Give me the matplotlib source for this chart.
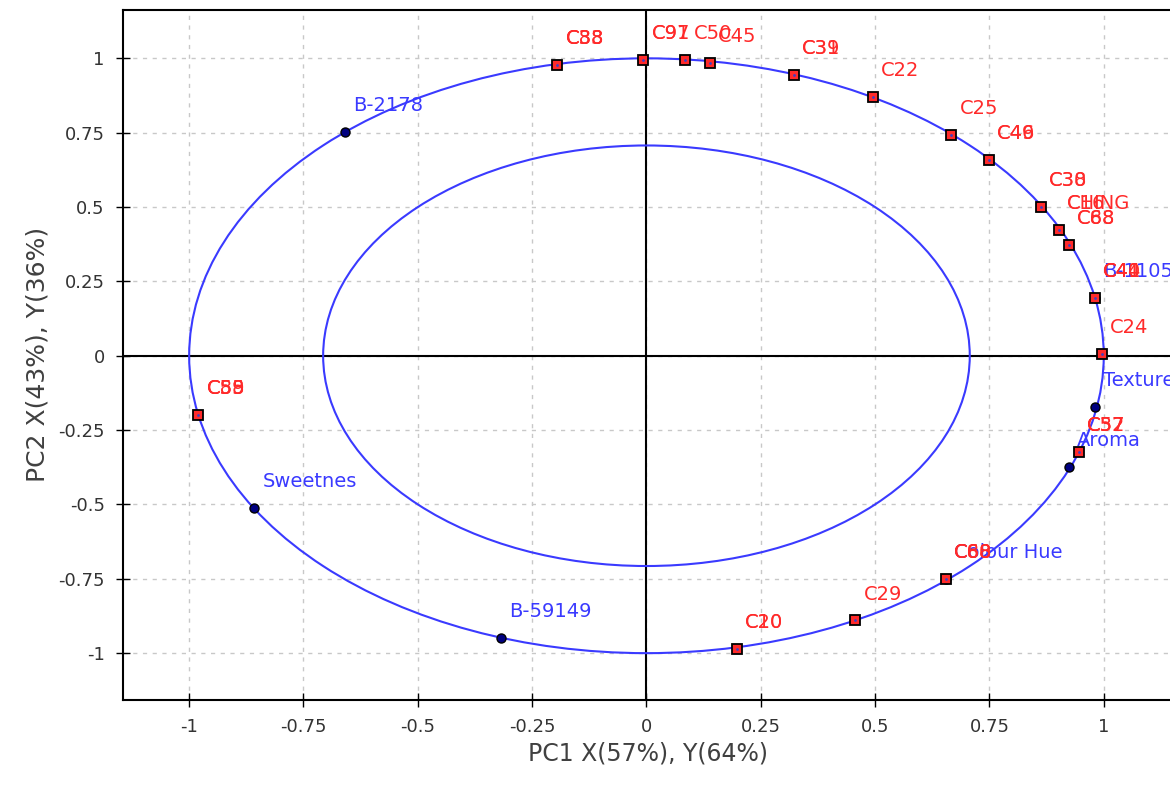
import matplotlib.pyplot as plt
from matplotlib.patches import Circle

# red squares (X variables), overlapping names share one point
sq_x = [-0.195, -0.007, 0.085, 0.138, 0.322, 0.495, 0.667, 0.748, 0.862, 0.902, 0.923, 0.980, 0.996, 0.945, -0.980, 0.654, 0.457, 0.197]
sq_y = [0.978, 0.995, 0.995, 0.985, 0.945, 0.871, 0.743, 0.659, 0.501, 0.424, 0.373, 0.195, 0.007, -0.323, -0.198, -0.750, -0.890, -0.985]
sq_names = ['C33/C38/C88', 'C91/C97', 'C50', 'C45', 'C39/C31', 'C22', 'C25', 'C46/C49',
            'C30/C38', 'C16/CHING', 'C68/C88', 'C40/C41/C44', 'C24', 'C52/C37/C57',
            'C55/C59/C88', 'C60/C68/C88', 'C29', 'C10/C20']

# blue circles (Y variables)
dot_x = [-0.659, -0.858, -0.319, 0.980, 0.923, 0.654, 0.980]
dot_y = [0.753, -0.511, -0.948, -0.171, -0.373, -0.750, 0.195]
dot_names = ['B-2178', 'Sweetnes', 'B-59149', 'Texture', 'Aroma', 'Colour Hue', 'B-11058']

ticks = [-1, -0.75, -0.5, -0.25, 0, 0.25, 0.5, 0.75, 1]
tick_labels = ['-1', '-0.75', '-0.5', '-0.25', '0', '0.25', '0.5', '0.75', '1']

red = '#ff2a2a'
blue = '#3a3aff'

fig = plt.figure(figsize=(11.7, 7.89), dpi=100)
ax = fig.add_axes([0.105, 0.113, 0.897, 0.8745])
ax.set_xlim(-1.145, 1.15)
ax.set_ylim(-1.157, 1.163)

ax.grid(True, linestyle=(0, (3, 4)), color='#c8c8c8', lw=1)
ax.set_axisbelow(True)
ax.axhline(0, color='black', lw=1.5, zorder=2)
ax.axvline(0, color='black', lw=1.5, zorder=2)

ax.add_patch(Circle((0, 0), 1.0, fill=False, color=blue, lw=1.5, zorder=3))
ax.add_patch(Circle((0, 0), 0.707, fill=False, color=blue, lw=1.5, zorder=3))

ax.plot(dot_x, dot_y, 'o', ms=6.5, color='#000080', mec='black', mew=1, zorder=4)
for x, y, name in zip(dot_x, dot_y, dot_names):
    ax.annotate(name, (x, y), xytext=(6, 19), textcoords='offset points',
                color=blue, fontsize=14, va='center', ha='left', zorder=5, annotation_clip=False)

ax.plot(sq_x, sq_y, 's', ms=7, color=red, mec='black', mew=1.3, zorder=6)
ax.plot(sq_x, sq_y, '.', ms=2, color='#4040c0', zorder=7)
for x, y, names in zip(sq_x, sq_y, sq_names):
    for name in names.split('/'):
        ax.annotate(name, (x, y), xytext=(6, 19), textcoords='offset points',
                    color=red, fontsize=14, va='center', ha='left', zorder=8, annotation_clip=False)

ax.set_xticks(ticks)
ax.set_xticklabels(tick_labels)
ax.set_yticks(ticks)
ax.set_yticklabels(tick_labels)
ax.tick_params(direction='inout', length=10, width=1, labelsize=13, labelcolor='#333333', pad=8)
for s in ax.spines.values():
    s.set_linewidth(1.5)

ax.set_xlabel('PC1 X(57%), Y(64%)', fontsize=17, color='#404040', labelpad=4)
ax.set_ylabel('PC2 X(43%), Y(36%)', fontsize=18, color='#404040', labelpad=6)

fig.savefig('out.png', dpi=100)
